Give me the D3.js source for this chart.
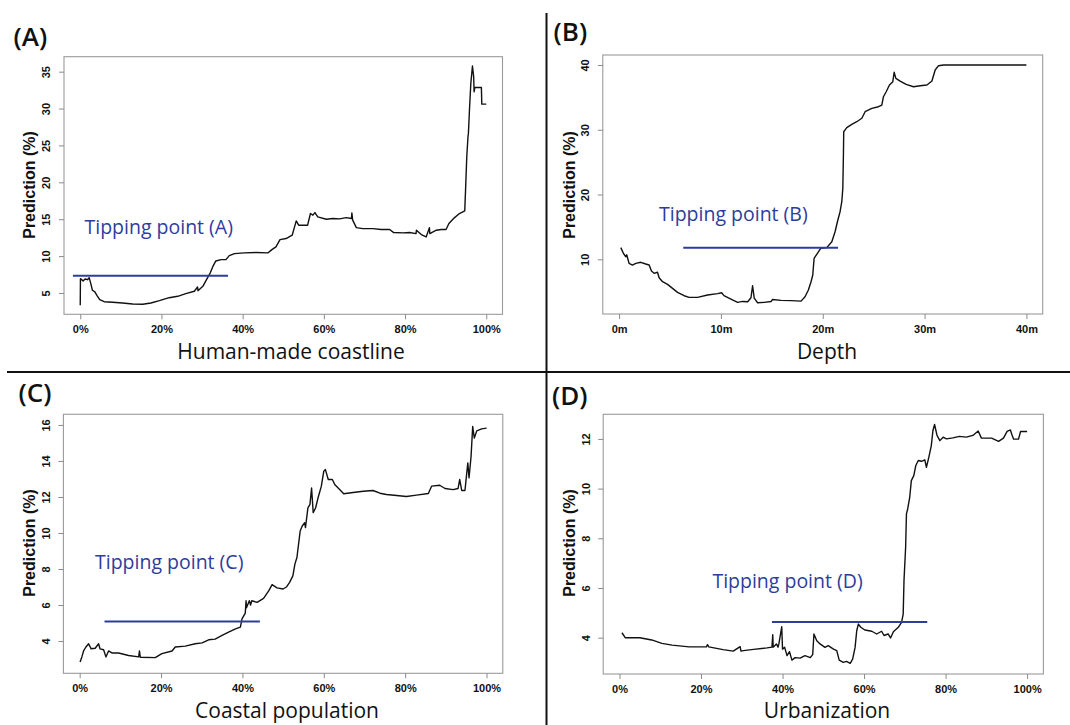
<!DOCTYPE html>
<html>
<head>
<meta charset="utf-8">
<script src="https://cdn.jsdelivr.net/npm/d3@7"></script>
<style>
  html, body { margin: 0; padding: 0; background: #fff; }
  svg { display: block; }
</style>
</head>
<body>
<svg id="chart" width="1070" height="725"></svg>
<script>
// ---------------- DATA ----------------
// (A) Human-made coastline (%)
const xA = [0, 0.05, 0.4, 0.7, 1.2, 1.8, 2.2, 2.6, 3.0, 3.6, 4.1, 4.8, 5.9, 8.0, 10.4, 12.9, 15.4, 17.4, 19.5, 21.9, 24.0, 26.0, 28.1, 28.9, 29.0, 30.2, 31.1, 32.0, 32.8, 33.4, 34.7, 35.9, 36.7, 38.0, 40.4, 43.3, 46.2, 47.2, 48.2, 49.2, 50.7, 52.2, 53.2, 53.8, 56.0, 56.7, 57.3, 57.8, 58.5, 60.6, 62.2, 63.9, 65.5, 66.8, 66.9, 67.1, 68.0, 69.6, 72.1, 74.1, 76.2, 77.2, 79.5, 81.1, 82.7, 82.8, 84.0, 85.2, 86.0, 86.1, 87.7, 88.9, 90.1, 90.8, 92.2, 93.4, 94.7, 94.9, 95.2, 95.5, 95.6, 95.9, 96.2, 96.6, 96.9, 97.0, 97.2, 98.8, 98.9, 100];
const yA = [3.33, 6.94, 6.8, 6.63, 6.9, 6.8, 7.08, 6.27, 5.37, 5.14, 4.68, 4.09, 3.82, 3.74, 3.64, 3.5, 3.47, 3.64, 3.96, 4.36, 4.55, 4.91, 5.23, 5.81, 5.3, 5.9, 6.8, 7.7, 8.75, 9.34, 9.52, 9.52, 10.07, 10.34, 10.43, 10.48, 10.43, 10.88, 11.24, 12.24, 12.38, 12.83, 14.77, 14.19, 14.19, 15.77, 15.55, 15.9, 15.32, 15.0, 15.1, 15.05, 15.22, 15.1, 15.86, 14.87, 13.86, 13.73, 13.73, 13.6, 13.6, 13.19, 13.15, 13.19, 13.05, 13.5, 12.92, 12.6, 13.86, 13.05, 13.51, 13.6, 13.6, 14.41, 15.22, 15.77, 16.13, 18.94, 23.46, 26.18, 26.6, 30.25, 33.41, 35.77, 34.3, 32.27, 32.86, 32.86, 30.6, 30.6];

// (B) Depth (m)
const xB = [0.17, 0.43, 0.66, 0.75, 0.98, 1.31, 1.64, 2.13, 2.62, 2.95, 3.18, 3.44, 3.77, 3.93, 4.27, 4.76, 5.25, 5.74, 6.39, 6.88, 7.7, 8.69, 9.68, 10.07, 10.3, 10.98, 11.64, 12.13, 12.63, 12.95, 13.11, 13.27, 13.6, 14.26, 14.92, 15.08, 15.9, 16.9, 17.87, 18.26, 18.59, 18.85, 19.02, 19.15, 19.41, 19.8, 20.39, 20.89, 21.21, 21.44, 21.7, 21.87, 21.97, 22.03, 22.06, 22.36, 22.85, 23.34, 23.84, 24.16, 24.82, 25.47, 25.8, 25.96, 26.23, 26.55, 26.88, 27.01, 27.18, 27.6, 28.19, 28.91, 29.57, 30.23, 30.72, 31.04, 31.37, 31.86, 40];
const yB = [11.8, 10.9, 10.4, 10.7, 9.38, 9.12, 9.38, 9.54, 9.28, 9.12, 8.19, 7.84, 8.0, 7.16, 6.54, 6.14, 5.52, 4.9, 4.38, 4.13, 4.13, 4.49, 4.7, 4.84, 4.4, 3.87, 3.36, 3.5, 3.45, 4.07, 5.92, 4.0, 3.3, 3.36, 3.5, 3.8, 3.67, 3.62, 3.55, 4.23, 5.26, 6.54, 7.58, 10.15, 10.77, 11.7, 11.8, 12.72, 14.26, 15.8, 17.35, 18.89, 20.96, 26.1, 29.7, 30.32, 30.84, 31.24, 31.77, 32.79, 33.31, 33.56, 33.82, 35.1, 35.87, 36.9, 37.42, 38.87, 37.94, 37.52, 37.0, 36.64, 36.8, 36.9, 37.52, 39.22, 39.89, 40.0, 40.0];

// (C) Coastal population (%)
const xC = [0.1, 0.54, 0.96, 1.53, 2.19, 2.83, 3.81, 4.65, 5.0, 5.88, 6.45, 7.1, 7.92, 9.57, 12.03, 14.5, 14.7, 14.9, 18.57, 20.2, 22.7, 23.5, 25.96, 28.4, 30.1, 31.7, 33.3, 35.0, 36.6, 38.3, 39.5, 39.9, 40.7, 40.9, 41.0, 41.7, 42.0, 42.3, 43.6, 45.2, 46.5, 47.3, 48.5, 50.0, 50.8, 51.6, 52.4, 52.9, 53.4, 53.9, 54.2, 54.7, 55.3, 55.5, 56.1, 56.6, 57.0, 57.4, 58.0, 58.6, 59.4, 60.0, 60.4, 61.1, 62.1, 62.7, 63.9, 64.9, 67.2, 69.7, 72.1, 73.8, 75.4, 77.9, 80.3, 82.8, 85.7, 86.5, 88.5, 89.8, 91.8, 93.0, 93.4, 93.9, 94.7, 95.1, 95.4, 95.7, 96.2, 96.6, 97.0, 97.6, 98.8, 100];
const yC = [2.84, 3.12, 3.45, 3.67, 3.85, 3.57, 3.6, 3.85, 3.57, 3.52, 3.12, 3.45, 3.34, 3.34, 3.2, 3.12, 3.45, 3.1, 3.08, 3.3, 3.45, 3.67, 3.72, 3.85, 3.9, 4.07, 4.11, 4.31, 4.5, 4.68, 4.77, 5.23, 5.55, 6.24, 5.85, 6.24, 6.0, 6.24, 6.15, 6.37, 6.8, 7.13, 6.95, 6.89, 7.0, 7.26, 7.62, 8.27, 8.64, 9.56, 10.11, 10.39, 10.57, 10.3, 11.4, 11.59, 12.5, 11.13, 11.4, 11.96, 12.6, 13.43, 13.52, 12.97, 12.97, 12.69, 12.41, 12.18, 12.25, 12.32, 12.36, 12.21, 12.14, 12.08, 12.03, 12.1, 12.19, 12.6, 12.65, 12.47, 12.41, 12.47, 12.97, 12.36, 12.36, 13.24, 13.89, 13.06, 14.25, 15.91, 15.27, 15.67, 15.78, 15.82];

// (D) Urbanization (%)
const xD = [0.6, 1.4, 5.0, 7.9, 10.4, 12.9, 17.1, 21.3, 21.6, 21.9, 25.4, 27.9, 29.6, 29.8, 30.4, 32.9, 36.2, 37.4, 37.6, 37.7, 38.5, 38.9, 39.1, 39.8, 40.0, 40.5, 41.1, 41.7, 42.3, 43.1, 44.3, 45.5, 46.8, 47.4, 47.7, 48.4, 49.2, 50.4, 51.2, 52.5, 53.3, 53.9, 54.9, 55.7, 56.6, 57.2, 57.8, 58.2, 58.6, 59.2, 60.2, 61.9, 63.1, 64.3, 64.9, 65.9, 66.5, 67.2, 68.4, 69.2, 69.6, 69.8, 70.2, 70.4, 70.7, 71.2, 71.6, 72.2, 72.7, 73.3, 74.1, 74.9, 75.3, 75.9, 76.5, 76.9, 77.3, 77.9, 78.6, 79.4, 80.2, 81.8, 83.4, 85.1, 86.7, 88.0, 88.8, 91.3, 93.0, 94.2, 95.1, 95.9, 96.3, 96.7, 97.9, 98.4, 100];
const yD = [4.2, 4.0, 4.0, 3.91, 3.77, 3.70, 3.63, 3.63, 3.72, 3.63, 3.52, 3.46, 3.64, 3.46, 3.48, 3.53, 3.59, 3.62, 4.12, 3.62, 3.75, 3.62, 3.75, 4.44, 3.54, 3.62, 3.28, 3.44, 3.10, 3.2, 3.18, 3.28, 3.2, 3.32, 4.15, 3.88, 3.75, 3.61, 3.68, 3.54, 3.48, 3.10, 3.01, 3.05, 2.97, 3.14, 3.61, 4.28, 4.55, 4.42, 4.31, 4.26, 4.15, 4.26, 4.09, 4.15, 3.99, 4.24, 4.42, 4.62, 4.95, 6.3, 7.64, 8.98, 9.18, 9.65, 10.32, 10.52, 10.93, 11.13, 11.1, 11.16, 10.86, 11.27, 11.73, 12.34, 12.58, 12.14, 11.93, 12.07, 12.0, 12.04, 12.1, 12.07, 12.14, 12.32, 12.03, 12.03, 11.9, 12.03, 12.3, 12.36, 12.16, 11.99, 11.99, 12.3, 12.3];

// Ticks and labels
const pctTicks = [0, 20, 40, 60, 80, 100];
const pctLabels = ["0%", "20%", "40%", "60%", "80%", "100%"];
const depthTicks = [0, 10, 20, 30, 40];
const depthLabels = ["0m", "10m", "20m", "30m", "40m"];
const yTicksA = [5, 10, 15, 20, 25, 30, 35];
const yTicksB = [10, 20, 30, 40];
const yTicksC = [4, 6, 8, 10, 12, 14, 16];
const yTicksD = [4, 6, 8, 10, 12];

const panelTags = ["(A)", "(B)", "(C)", "(D)"];
const axisTitles = ["Human-made coastline", "Depth", "Coastal population", "Urbanization"];
const yTitle = "Prediction (%)";
const tippingLabels = ["Tipping point (A)", "Tipping point (B)", "Tipping point (C)", "Tipping point (D)"];
// tipping lines: level (y) and start / end on the x axis
const tippingLevel = [7.33, 11.78, 5.08, 4.63];
const tippingFrom = [-1.8, 6.3, 6.1, 37.4];
const tippingTo = [36.4, 21.5, 44.3, 75.5];

// ---------------- LAYOUT ----------------
const panels = [
  { xs: xA, ys: yA, xTicks: pctTicks, xLabels: pctLabels, yTicks: yTicksA,
    box: { l: 64, r: 502.5, t: 56.7, b: 314.3 }, xDom: [-4, 104], yDom: [2.11, 37.03],
    tag: { x: 13.5, y: 45.7 }, title: { x: 291, y: 358.5 }, yt: { x: 29.3, y: 185 }, tip: { x: 84.5, y: 234 } },
  { xs: xB, ys: yB, xTicks: depthTicks, xLabels: depthLabels, yTicks: yTicksB,
    box: { l: 602.8, r: 1042.7, t: 55, b: 314 }, xDom: [-1.6, 41.6], yDom: [1.56, 41.54],
    tag: { x: 553.5, y: 40.7 }, title: { x: 827, y: 359 }, yt: { x: 569, y: 185 }, tip: { x: 659, y: 220.5 } },
  { xs: xC, ys: yC, xTicks: pctTicks, xLabels: pctLabels, yTicks: yTicksC,
    box: { l: 63.4, r: 502.8, t: 414.3, b: 673.3 }, xDom: [-4, 104], yDom: [2.21, 16.59],
    tag: { x: 18.5, y: 401.7 }, title: { x: 287, y: 718 }, yt: { x: 29.3, y: 543 }, tip: { x: 95, y: 569 } },
  { xs: xD, ys: yD, xTicks: pctTicks, xLabels: pctLabels, yTicks: yTicksD,
    box: { l: 603.2, r: 1043.4, t: 414.3, b: 674 }, xDom: [-4, 104], yDom: [2.54, 12.99],
    tag: { x: 552, y: 405 }, title: { x: 827, y: 718 }, yt: { x: 569, y: 543 }, tip: { x: 712.4, y: 587.5 } }
];

const BLUE = "#2d3d9c";
const svg = d3.select("#chart");
svg.append("rect").attr("width", 1070).attr("height", 725).attr("fill", "#fff");

// separators
svg.append("line").attr("x1", 7).attr("x2", 1070).attr("y1", 372).attr("y2", 372)
  .attr("stroke", "#111").attr("stroke-width", 2);
svg.append("line").attr("x1", 546.5).attr("x2", 546.5).attr("y1", 13).attr("y2", 725)
  .attr("stroke", "#111").attr("stroke-width", 2);

panels.forEach((p, i) => {
  const g = svg.append("g");
  const x = d3.scaleLinear().domain(p.xDom).range([p.box.l, p.box.r]);
  const y = d3.scaleLinear().domain(p.yDom).range([p.box.b, p.box.t]);

  // plot box
  g.append("rect")
    .attr("x", p.box.l).attr("y", p.box.t)
    .attr("width", p.box.r - p.box.l).attr("height", p.box.b - p.box.t)
    .attr("fill", "none").attr("stroke", "#9a9a9a").attr("stroke-width", 1.1);

  // x axis
  const xAxis = d3.axisBottom(x).tickValues(p.xTicks)
    .tickFormat((d, k) => p.xLabels[k]).tickSize(5).tickSizeOuter(0);
  const gx = g.append("g").attr("transform", `translate(0,${p.box.b})`).call(xAxis);
  gx.select(".domain").remove();
  gx.selectAll(".tick line").attr("stroke", "#8a8a8a");
  gx.selectAll(".tick text")
    .attr("y", 19).attr("dy", 0)
    .attr("font-family", "'Liberation Sans', Arial, sans-serif")
    .attr("font-weight", "bold").attr("font-size", 11).attr("fill", "#111");

  // y axis
  const yAxis = d3.axisLeft(y).tickValues(p.yTicks).tickSize(5).tickSizeOuter(0);
  const gy = g.append("g").attr("transform", `translate(${p.box.l},0)`).call(yAxis);
  gy.select(".domain").remove();
  gy.selectAll(".tick line").attr("stroke", "#8a8a8a");
  gy.selectAll(".tick text")
    .attr("transform", "rotate(-90)")
    .attr("x", 0).attr("y", -17.5).attr("dy", "0.35em")
    .attr("text-anchor", "middle")
    .attr("font-family", "'Liberation Sans', Arial, sans-serif")
    .attr("font-weight", "bold").attr("font-size", 11).attr("fill", "#111");

  // y title
  g.append("text")
    .attr("transform", `translate(${p.yt.x},${p.yt.y}) rotate(-90)`)
    .attr("text-anchor", "middle").attr("dy", "0.35em")
    .attr("font-family", "'Liberation Sans', Arial, sans-serif")
    .attr("font-weight", "bold").attr("font-size", 16).attr("fill", "#111")
    .text(yTitle);

  // x title
  g.append("text")
    .attr("x", p.title.x).attr("y", p.title.y)
    .attr("text-anchor", "middle")
    .attr("font-family", "'Open Sans', 'Noto Sans', sans-serif")
    .attr("font-weight", 500)
    .attr("font-size", 21).attr("fill", "#111")
    .text(axisTitles[i]);

  // panel tag
  g.append("text")
    .attr("x", p.tag.x).attr("y", p.tag.y)
    .attr("font-family", "'Open Sans', 'Noto Sans', sans-serif")
    .attr("font-weight", 600).attr("font-size", 26).attr("fill", "#111")
    .text(panelTags[i]);

  // data line
  const pts = p.xs.map((v, k) => [v, p.ys[k]]);
  const line = d3.line().x(d => x(d[0])).y(d => y(d[1]));
  g.append("path").datum(pts)
    .attr("d", line)
    .attr("fill", "none").attr("stroke", "#111").attr("stroke-width", 1.4)
    .attr("stroke-linejoin", "round");

  // tipping line + label
  g.append("line")
    .attr("x1", x(tippingFrom[i])).attr("x2", x(tippingTo[i]))
    .attr("y1", y(tippingLevel[i])).attr("y2", y(tippingLevel[i]))
    .attr("stroke", BLUE).attr("stroke-width", 2);
  g.append("text")
    .attr("x", p.tip.x).attr("y", p.tip.y)
    .attr("font-family", "'Open Sans', 'Noto Sans', sans-serif")
    .attr("font-weight", 500)
    .attr("font-size", 19.5).attr("fill", BLUE)
    .text(tippingLabels[i]);
});
</script>
</body>
</html>
